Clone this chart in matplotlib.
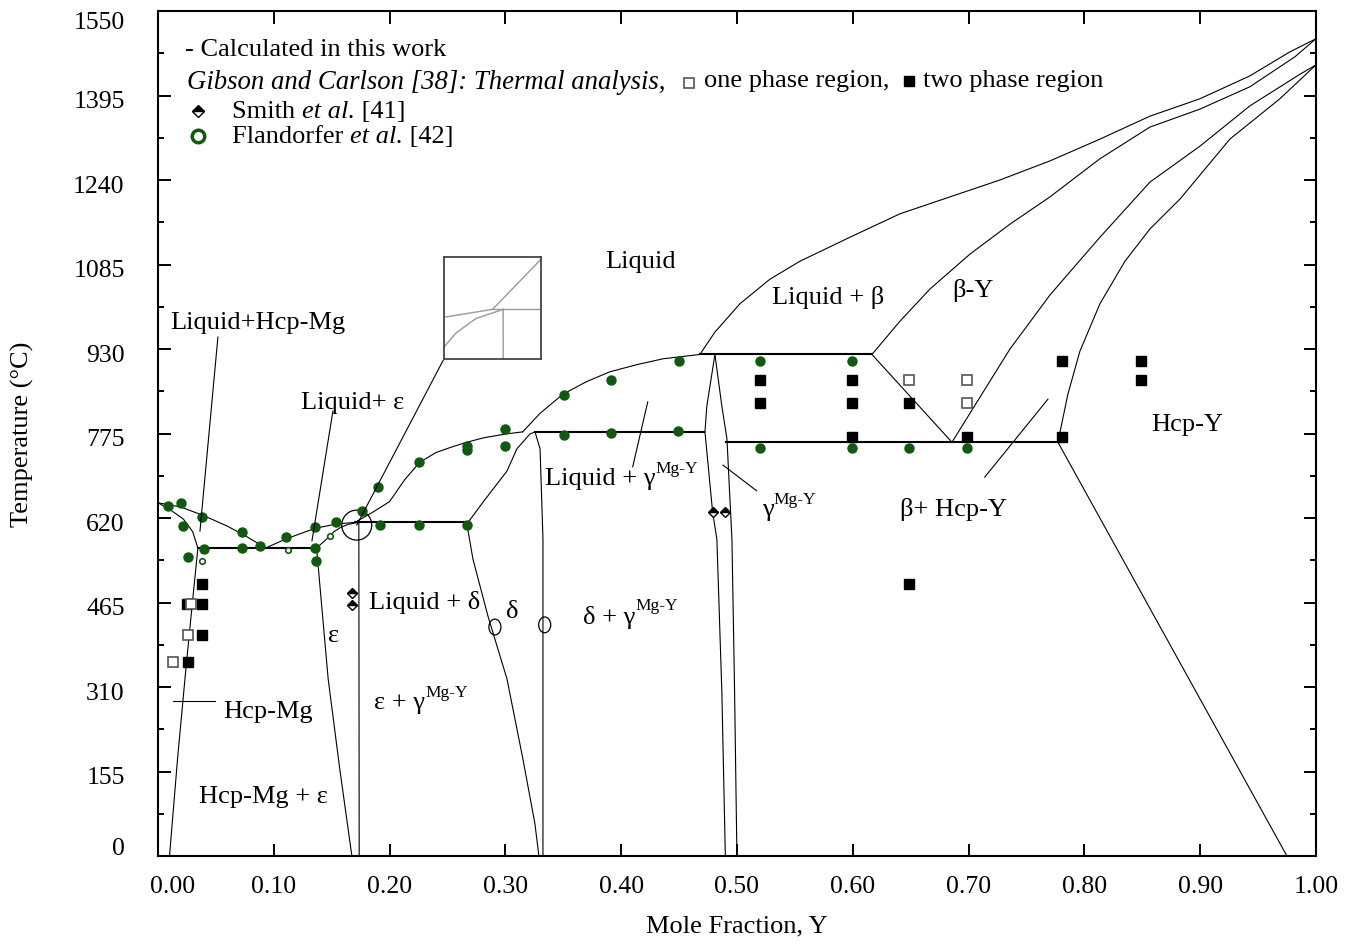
import numpy as np
import matplotlib.pyplot as plt
from matplotlib.patches import Ellipse
from matplotlib.transforms import ScaledTranslation

plt.rcParams['font.family'] = ['Liberation Serif', 'DejaVu Serif']
plt.rcParams['mathtext.fontset'] = 'custom'

# ---- calculated phase boundaries (mole fraction Y, temperature degC) ----
liq_mg_x = [0.0, 0.02, 0.04, 0.06, 0.075, 0.093]
liq_mg_t = [648, 640, 624, 605, 588, 565]
sol_mg_x = [0.0, 0.01, 0.022, 0.03, 0.0345]
sol_mg_t = [648, 636, 618, 595, 565]
solv_mg_x = [0.0345, 0.030, 0.024, 0.017, 0.010]
solv_mg_t = [565, 470, 340, 180, 0]

liq_eps_x = [0.093, 0.111, 0.1356, 0.154, 0.170]
liq_eps_t = [565, 582, 601, 609, 612]
sol_eps_x = [0.137, 0.145, 0.152, 0.158, 0.1645, 0.1735]
sol_eps_t = [565, 580, 595, 603, 608.5, 612]
eps_left_x = [0.137, 0.147, 0.157, 0.1675]
eps_left_t = [565, 325, 160, 0]
eps_right_x = [0.1735, 0.1738]
eps_right_t = [612, 0]

liq_delta_x = [0.170, 0.185, 0.200, 0.213, 0.226, 0.240, 0.252, 0.265, 0.281, 0.300, 0.315]
liq_delta_t = [612, 630, 650, 690, 722, 740, 749, 758, 767, 774, 778]
sol_delta_x = [0.265, 0.2668, 0.2807, 0.3014, 0.310, 0.3212, 0.3256]
sol_delta_t = [612, 609, 649, 706, 747, 774, 778]
delta_left_x = [0.2668, 0.272, 0.285, 0.3014, 0.315, 0.3255, 0.329]
delta_left_t = [609, 545, 440, 325, 180, 60, 0]
delta_right_x = [0.3256, 0.330, 0.3325, 0.3325]
delta_right_t = [778, 747, 581, 0]

liq_gam_x = [0.315, 0.33, 0.3497, 0.37, 0.390, 0.413, 0.436, 0.468]
liq_gam_t = [778, 812, 847, 870, 888, 901, 912, 920]
gam_left_x = [0.481, 0.474, 0.4724, 0.479, 0.4827, 0.487, 0.490]
gam_left_t = [920, 825, 778, 631, 581, 300, 0]
gam_right_x = [0.481, 0.487, 0.4914, 0.4957, 0.498, 0.500]
gam_right_t = [920, 825, 765, 581, 300, 0]

liq_beta_x = [0.468, 0.481, 0.5026, 0.5285, 0.5544, 0.5976, 0.6408, 0.6839, 0.7271,
              0.7703, 0.8135, 0.8566, 0.8998, 0.943, 0.9775, 1.0]
liq_beta_t = [920, 961, 1013, 1058, 1091, 1135, 1178, 1209, 1240,
              1275, 1315, 1357, 1389, 1431, 1475, 1499]
sol_beta_x = [0.6166, 0.6408, 0.6667, 0.7012, 0.7358, 0.7703, 0.8135, 0.8566, 0.8998,
              0.943, 0.9819, 1.0]
sol_beta_t = [920, 981, 1040, 1104, 1159, 1209, 1279, 1337, 1370, 1411, 1466, 1499]
beta_low_x = [0.6166, 0.6857]
beta_low_t = [920, 759]
beta_y_x = [0.6857, 0.7358, 0.7703, 0.8135, 0.8566, 0.8998, 0.943, 0.9862, 1.0]
beta_y_t = [759, 930, 1029, 1135, 1236, 1302, 1376, 1434, 1451]
hcp_y_x = [0.7772, 0.7858, 0.7962, 0.8135, 0.8351, 0.8566, 0.8826, 0.9257, 0.9689, 1.0]
hcp_y_t = [759, 847, 926, 1013, 1091, 1150, 1205, 1315, 1389, 1451]
solv_y_x = [0.7772, 0.876, 0.975]
solv_y_t = [759, 380, 0]

# invariant reactions
inv_565_x, inv_565_t = [0.0345, 0.137], [565, 565]
inv_612_x, inv_612_t = [0.170, 0.265], [612, 612]
inv_778_x, inv_778_t = [0.3256, 0.472], [778, 778]
inv_920_x, inv_920_t = [0.468, 0.6166], [920, 920]
inv_759_x, inv_759_t = [0.491, 0.7772], [759, 759]

# ---- experimental data ----
flan_x = [0.0086, 0.020, 0.0216, 0.038, 0.026, 0.040, 0.073, 0.073, 0.088, 0.1105,
          0.1356, 0.1356, 0.1364, 0.1537, 0.176, 0.190, 0.1917, 0.2254, 0.2254,
          0.2668, 0.2668, 0.2668, 0.2997, 0.2997, 0.3506, 0.391, 0.450, 0.3506,
          0.391, 0.449, 0.520, 0.599, 0.520, 0.599, 0.649, 0.699]
flan_t = [642, 647, 605, 622, 548, 563, 594, 565, 569, 585,
          603, 565, 541, 613, 633, 677, 607, 723, 607,
          607, 752, 745, 783, 752, 846, 873, 908, 772,
          776, 780, 908, 908, 748, 748, 748, 748]
flan_small_x = [0.038, 0.112, 0.149]
flan_small_t = [541, 561, 587]

two_phase_x = [0.038, 0.038, 0.038, 0.026, 0.025, 0.520, 0.520, 0.599, 0.599, 0.599,
               0.649, 0.699, 0.781, 0.781, 0.849, 0.849, 0.649]
two_phase_t = [499, 462, 405, 356, 462, 873, 831, 873, 831, 769,
               831, 769, 908, 769, 908, 873, 499]
one_phase_x = [0.0285, 0.026, 0.013, 0.649, 0.699, 0.699]
one_phase_t = [462, 405, 356, 873, 873, 831]

smith_x = [0.168, 0.168, 0.479, 0.490]
smith_t = [482, 460, 631, 631]

open_x = [0.291, 0.334]
open_t = [420, 424]

green = '#0f5a0f'

fig = plt.figure(figsize=(13.58, 9.45), dpi=100)
ax = fig.add_axes([0.1163, 0.0931, 0.8527, 0.8942])

curves = [(liq_mg_x, liq_mg_t), (sol_mg_x, sol_mg_t), (solv_mg_x, solv_mg_t),
          (liq_eps_x, liq_eps_t), (sol_eps_x, sol_eps_t), (eps_left_x, eps_left_t),
          (eps_right_x, eps_right_t), (liq_delta_x, liq_delta_t),
          (sol_delta_x, sol_delta_t), (delta_left_x, delta_left_t),
          (delta_right_x, delta_right_t), (liq_gam_x, liq_gam_t),
          (gam_left_x, gam_left_t), (gam_right_x, gam_right_t),
          (liq_beta_x, liq_beta_t), (sol_beta_x, sol_beta_t), (beta_low_x, beta_low_t),
          (beta_y_x, beta_y_t), (hcp_y_x, hcp_y_t), (solv_y_x, solv_y_t)]
invariants = [(inv_565_x, inv_565_t), (inv_612_x, inv_612_t), (inv_778_x, inv_778_t),
              (inv_920_x, inv_920_t), (inv_759_x, inv_759_t)]

for cx, ct in curves:
    ax.plot(cx, ct, color='k', lw=0.8)
for cx, ct in invariants:
    ax.plot(cx, ct, color='k', lw=1.5)

ax.plot(flan_x, flan_t, 'o', color=green, ms=6.5, mec=green)
ax.plot(flan_small_x, flan_small_t, 'o', color='white', ms=4, mec=green, mew=1.2)
ax.plot(two_phase_x, two_phase_t, 's', color='k', ms=7)
ax.plot(one_phase_x, one_phase_t, 's', mfc='white', mec='#555555', ms=7, mew=1.2)
ax.plot(smith_x, smith_t, 'D', ms=5.5, fillstyle='top', mfc='k', mfcalt='white',
        mec='k', mew=1)
for ox, ot in zip(open_x, open_t):
    ax.add_patch(Ellipse((ox, ot), 0.0104, 29, fill=False, lw=0.9, color='k'))

# circled peritectic point and the callout to the magnified view
ax.add_patch(Ellipse((0.1717, 607), 0.0259, 55, fill=False, lw=0.9, color='k'))
ax.plot([0.1717, 0.247], [607, 912], color='k', lw=0.8)

# label pointers
pointers = [([0.0518, 0.0363], [952, 596]), ([0.1511, 0.133], [816, 578]),
            ([0.013, 0.049], [284, 284]), ([0.423, 0.410], [833, 714]),
            ([0.488, 0.517], [717, 670]), ([0.714, 0.7686], [695, 838])]
for px, pt in pointers:
    ax.plot(px, pt, color='k', lw=0.8)

fs = 19


def label(x, y, text, sup=None, ha='center'):
    t = ax.text(x, y, text, fontsize=fs, ha=ha, va='center')
    if sup:
        ax.annotate(sup, xy=(1, 0.62), xycoords=t, fontsize=12.5, ha='left', va='bottom')
    return t


label(0.417, 1091, 'Liquid')
label(0.0864, 980, 'Liquid+Hcp-Mg')
label(0.168, 833, 'Liquid+ ε')
label(0.5786, 1027, 'Liquid + β')
label(0.704, 1040, 'β-Y')
label(0.334, 693, 'Liquid + γ', 'Mg-Y', ha='left')
label(0.5216, 636, 'γ', 'Mg-Y', ha='left')
label(0.687, 637, 'β+ Hcp-Y')
label(0.8886, 792, 'Hcp-Y')
label(0.2306, 466, 'Liquid + δ')
label(0.3057, 449, 'δ')
label(0.367, 440, 'δ + γ', 'Mg-Y', ha='left')
label(0.152, 405, 'ε')
label(0.187, 282, 'ε + γ', 'Mg-Y', ha='left')
label(0.095, 266, 'Hcp-Mg')
label(0.0915, 110, 'Hcp-Mg + ε')

# key
tr = ax.transAxes
ax.text(0.0233, 0.955, '- Calculated in this work', transform=tr, fontsize=fs, va='center')
ax.text(0.0250, 0.917, 'Gibson and Carlson [38]: Thermal analysis,', transform=tr,
        fontsize=19.3, style='italic', va='center')
ax.plot([0.459], [0.915], 's', transform=tr, mfc='white', mec='#555555', ms=7, mew=1.2,
        clip_on=False)
ax.text(0.472, 0.918, 'one phase region,', transform=tr, fontsize=fs, va='center')
ax.plot([0.649], [0.917], 's', transform=tr, color='k', ms=7, clip_on=False)
ax.text(0.661, 0.918, 'two phase region', transform=tr, fontsize=fs, va='center')
ax.plot([0.0345], [0.882], 'D', transform=tr, ms=6, fillstyle='top', mfc='k',
        mfcalt='white', mec='k', mew=1)
s = ax.text(0.0639, 0.882, 'Smith ', transform=tr, fontsize=fs, va='center')
s = ax.annotate('et al.', xy=(1, 0), xycoords=s, fontsize=fs, style='italic', va='bottom')
ax.annotate(' [41]', xy=(1, 0), xycoords=s, fontsize=fs, va='bottom')
ax.plot([0.0345], [0.852], 'o', transform=tr, mfc='white', mec=green, ms=9, mew=2.5)
f = ax.text(0.0639, 0.852, 'Flandorfer ', transform=tr, fontsize=fs, va='center')
f = ax.annotate('et al.', xy=(1, 0), xycoords=f, fontsize=fs, style='italic', va='bottom')
ax.annotate(' [42]', xy=(1, 0), xycoords=f, fontsize=fs, va='bottom')

ax.set_xlim(0, 1)
ax.set_ylim(0, 1550)
ax.set_xticks(np.arange(0, 1.001, 0.1))
ax.set_xticklabels([f'{v:.2f}' for v in np.arange(0, 1.001, 0.1)])
ax.set_yticks(np.arange(0, 1551, 155))
ax.set_yticks(np.arange(77.5, 1550, 155), minor=True)
ax.tick_params(which='both', direction='in', top=True, right=True, labelsize=18.5)
ax.tick_params(which='major', length=9, width=1.4)
ax.tick_params(which='minor', length=4, width=1.4)
ax.tick_params(axis='y', pad=24)
ax.tick_params(axis='x', pad=14)
for sp in ax.spines.values():
    sp.set_linewidth(1.5)

# nudge the corner tick labels off the spines
lab0 = ax.get_xticklabels()[0]
lab0.set_transform(lab0.get_transform() + ScaledTranslation(0.15, 0, fig.dpi_scale_trans))
ylabs = ax.get_yticklabels()
for i, lab in enumerate(ylabs):
    dy = -0.03
    if i == 0:
        dy = 0.11
    elif i == len(ylabs) - 1:
        dy = -0.08
    lab.set_transform(lab.get_transform() + ScaledTranslation(0, dy, fig.dpi_scale_trans))

ax.set_xlabel('Mole Fraction, Y', fontsize=19, labelpad=12)
ax.set_ylabel('Temperature (°C)', fontsize=19, labelpad=28)

# magnified view around the peritectic point
ins = fig.add_axes([0.3270, 0.6190, 0.0714, 0.1079])
for cx, ct in curves[3:8] + [(inv_612_x, inv_612_t)]:
    ins.plot(cx, ct, color='#999999', lw=1)
ins.set_xlim(0.154, 0.186)
ins.set_ylim(593, 632)
ins.set_xticks([])
ins.set_yticks([])
for sp in ins.spines.values():
    sp.set_linewidth(1.3)
    sp.set_color('#444444')

fig.savefig('out.png', dpi=100)
